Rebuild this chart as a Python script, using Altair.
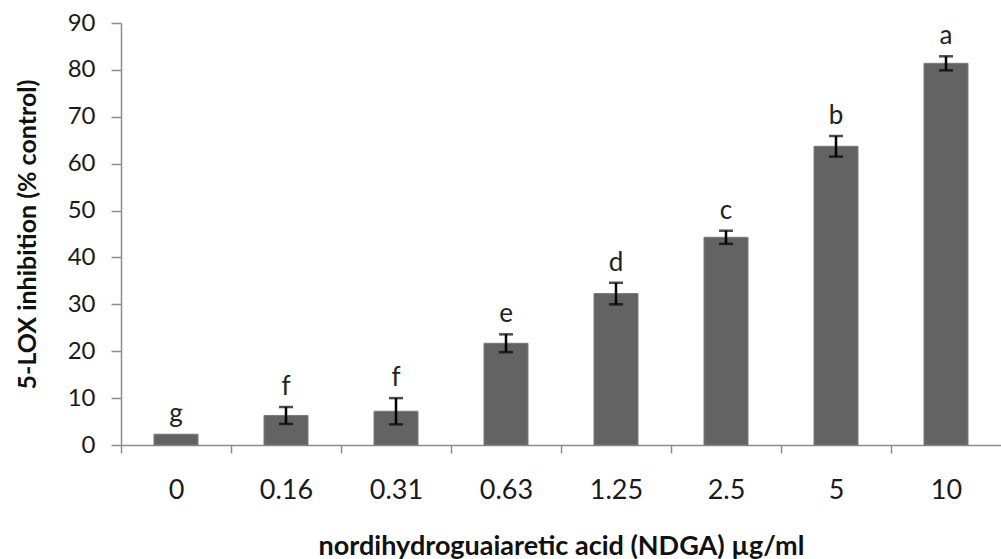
import altair as alt
import pandas as pd

doses = ["0", "0.16", "0.31", "0.63", "1.25", "2.5", "5", "10"]
inhibition = [2.3, 6.3, 7.2, 21.7, 32.3, 44.3, 63.7, 81.4]
sem = [0.0, 1.8, 2.8, 1.9, 2.3, 1.4, 2.2, 1.5]
letters = ["g", "f", "f", "e", "d", "c", "b", "a"]

df = pd.DataFrame({
    "dose": doses,
    "val": inhibition,
    "se": sem,
    "letter": letters,
})
df["lo"] = df["val"] - df["se"]
df["hi"] = df["val"] + df["se"]

FONT = "Lato"

x_enc = alt.X(
    "dose:N",
    sort=doses,
    scale=alt.Scale(paddingInner=0.6, paddingOuter=0.3),
    axis=alt.Axis(
        title="nordihydroguaiaretic acid (NDGA) \u00b5g/ml",
        labelAngle=0,
        labelFontSize=27,
        labelFont=FONT,
        labelColor="#1a1a1a",
        labelPadding=24,
        labelBaseline="top",
        tickOffset=-55,
        labelOffset=55,
        tickSize=8,
        tickColor="#8c8c8c",
        domainColor="#8c8c8c",
        domainWidth=1.5,
        tickWidth=1.5,
        titleFont=FONT,
        titleFontSize=27,
        titleFontWeight="bold",
        titleColor="#111111",
        titleY=109,
        titleBaseline="alphabetic",
    ),
)

y_scale = alt.Scale(domain=[0, 90], nice=False)

bars = alt.Chart(df).mark_bar(color="#636363", stroke="#7a7a7a", strokeWidth=1).encode(
    x=x_enc,
    y=alt.Y(
        "val:Q",
        scale=y_scale,
        axis=alt.Axis(
            title="5-LOX inhibition (% control)",
            values=[0, 10, 20, 30, 40, 50, 60, 70, 80, 90],
            grid=False,
            labelFontSize=24,
            labelFont=FONT,
            labelColor="#1a1a1a",
            labelPadding=16,
            tickSize=10,
            tickColor="#8c8c8c",
            domainColor="#8c8c8c",
            domainWidth=1.5,
            tickWidth=1.5,
            titleFont=FONT,
            titleFontSize=25,
            titleFontWeight="bold",
            titleColor="#111111",
            titleX=-86,
            titleBaseline="alphabetic",
        ),
    ),
)

err_base = alt.Chart(df).transform_filter("datum.se > 0")

err_rule = err_base.mark_rule(color="black", strokeWidth=2.5).encode(
    x=alt.X("dose:N", sort=doses),
    y=alt.Y("lo:Q", scale=y_scale),
    y2="hi:Q",
)
cap_lo = err_base.mark_tick(color="black", size=14, thickness=2.5).encode(
    x=alt.X("dose:N", sort=doses),
    y=alt.Y("lo:Q", scale=y_scale),
)
cap_hi = err_base.mark_tick(color="black", size=14, thickness=2.5).encode(
    x=alt.X("dose:N", sort=doses),
    y=alt.Y("hi:Q", scale=y_scale),
)

labels = alt.Chart(df).mark_text(
    font=FONT, fontSize=26, color="#222222", baseline="alphabetic", dy=-12
).encode(
    x=alt.X("dose:N", sort=doses),
    y=alt.Y("hi:Q", scale=y_scale),
    text="letter:N",
)

chart = alt.layer(bars, err_rule, cap_lo, cap_hi, labels).properties(
    width=880,
    height=422,
    autosize=alt.AutoSizeParams(type="none"),
    padding={"left": 121, "top": 23, "right": 0, "bottom": 114},
    background="white",
).configure_view(stroke=None)

chart.save("out.html", embed_options={"renderer": "svg", "actions": False})
